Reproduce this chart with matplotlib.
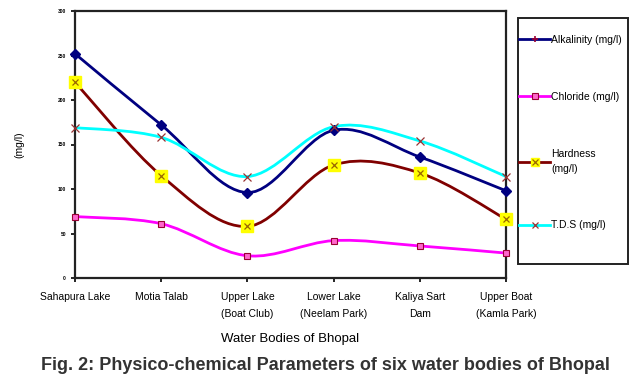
import numpy as np
import matplotlib
matplotlib.use("Agg")
import matplotlib.pyplot as plt
from matplotlib.path import Path
from matplotlib.patches import PathPatch, Rectangle
from matplotlib.lines import Line2D

plt.rcParams['font.family'] = ['Liberation Sans', 'DejaVu Sans']

# data
sites = ["Sahapura Lake", "Motia Talab", "Upper Lake\n(Boat Club)",
         "Lower Lake\n(Neelam Park)", "Kaliya Sart\nDam", "Upper Boat\n(Kamla Park)"]
alkalinity = [252, 172, 96, 166, 136, 98]
chloride = [69, 61, 25, 42, 36, 28]
hardness = [220, 115, 58, 127, 118, 66]
tds = [169, 158, 114, 170, 154, 114]
yticks = [0, 50, 100, 150, 200, 250, 300]


def smooth_path(x, y):
    # Excel style smoothed line: cubic bezier segments through each point
    x = np.asarray(x, float)
    y = np.asarray(y, float)
    px = np.concatenate([[x[0]], x, [x[-1]]])
    py = np.concatenate([[y[0]], y, [y[-1]]])
    verts = [(x[0], y[0])]
    codes = [Path.MOVETO]
    for i in range(1, len(x)):
        c1 = (px[i] + (px[i + 1] - px[i - 1]) / 6, py[i] + (py[i + 1] - py[i - 1]) / 6)
        c2 = (px[i + 1] - (px[i + 2] - px[i]) / 6, py[i + 1] - (py[i + 2] - py[i]) / 6)
        verts += [c1, c2, (x[i], y[i])]
        codes += [Path.CURVE4] * 3
    return Path(verts, codes)


fig = plt.figure(figsize=(6.35, 3.82), dpi=100)
ax = fig.add_axes([75 / 635, 1 - 278 / 382, 431 / 635, 267 / 382])

xs = np.arange(len(sites))
lw = 2.0
series = [
    (alkalinity, "#000080", dict(marker="D", ms=5, mfc="#000080", mec="#000080")),
    (chloride, "#ff00ff", dict(marker="s", ms=4, mfc="#ff66cc", mec="#990033", mew=0.8)),
    (hardness, "#800000", dict(marker="s", ms=8, mfc="#ffff00", mec="#ffff00")),
    (tds, "#00ffff", dict(marker="x", ms=6, mec="#993333", mew=0.9)),
]
for vals, col, mk in series:
    ax.add_patch(PathPatch(smooth_path(xs, vals), fill=False, edgecolor=col,
                           lw=lw, capstyle="round", joinstyle="round", zorder=2))
    ax.plot(xs, vals, linestyle="none", zorder=3, clip_on=False, **mk)
# x mark on top of the yellow hardness squares
ax.plot(xs, hardness, linestyle="none", marker="x", ms=4.5, mec="#996600", mew=0.9,
        zorder=4, clip_on=False)

ax.set_xlim(0, 5)
ax.set_ylim(0, 300)
ax.set_xticks(xs)
ax.set_xticklabels(sites, fontsize=7.5, linespacing=1.9)
ax.set_yticks(yticks)
ax.set_yticklabels([str(v) for v in yticks], fontsize=3.5, fontweight="bold")
ax.tick_params(axis="both", direction="out", length=3, width=1.2, color="black")
ax.tick_params(axis="x", pad=7)
for s in ax.spines.values():
    s.set_linewidth(1.6)
    s.set_color("#222222")

ax.set_ylabel("(mg/l)", fontsize=7.5, labelpad=24)
ax.set_xlabel("Water Bodies of Bhopal", fontsize=9.5, labelpad=10)

handles = [
    Line2D([], [], color="#000080", lw=lw, marker="+", ms=5, mec="#990033", mew=1.2),
    Line2D([], [], color="#ff00ff", lw=lw, marker="s", ms=4, mfc="#ff66cc", mec="#990033", mew=0.8),
    (Line2D([], [], color="#800000", lw=lw, marker="s", ms=6, mfc="#ffff00", mec="#ffff00"),
     Line2D([], [], linestyle="none", marker="x", ms=4, mec="#996600", mew=0.9)),
    Line2D([], [], color="#00ffff", lw=lw, marker="x", ms=4, mec="#993333", mew=0.9),
]
labels = ["Alkalinity (mg/l)", "Chloride (mg/l)", "Hardness\n(mg/l)", "T.D.S (mg/l)"]
leg = fig.legend(handles, labels, loc="upper left", bbox_to_anchor=(519 / 635, 1 - 35 / 382),
                 fontsize=7.5, frameon=False, handlelength=3.0, handletextpad=0.1,
                 labelspacing=4.5, borderpad=0, borderaxespad=0)
leg.get_texts()[2].set_linespacing(1.6)
fig.add_artist(Rectangle((518 / 635, 1 - 264 / 382), 110 / 635, 246 / 382,
                         transform=fig.transFigure, fill=False, edgecolor="#222222", lw=1.4))

fig.text(0.513, 1 - 366 / 382, "Fig. 2: Physico-chemical Parameters of six water bodies of Bhopal",
         ha="center", va="center", fontsize=13, fontweight="bold", color="#333333")

fig.savefig("out.png", dpi=100)
